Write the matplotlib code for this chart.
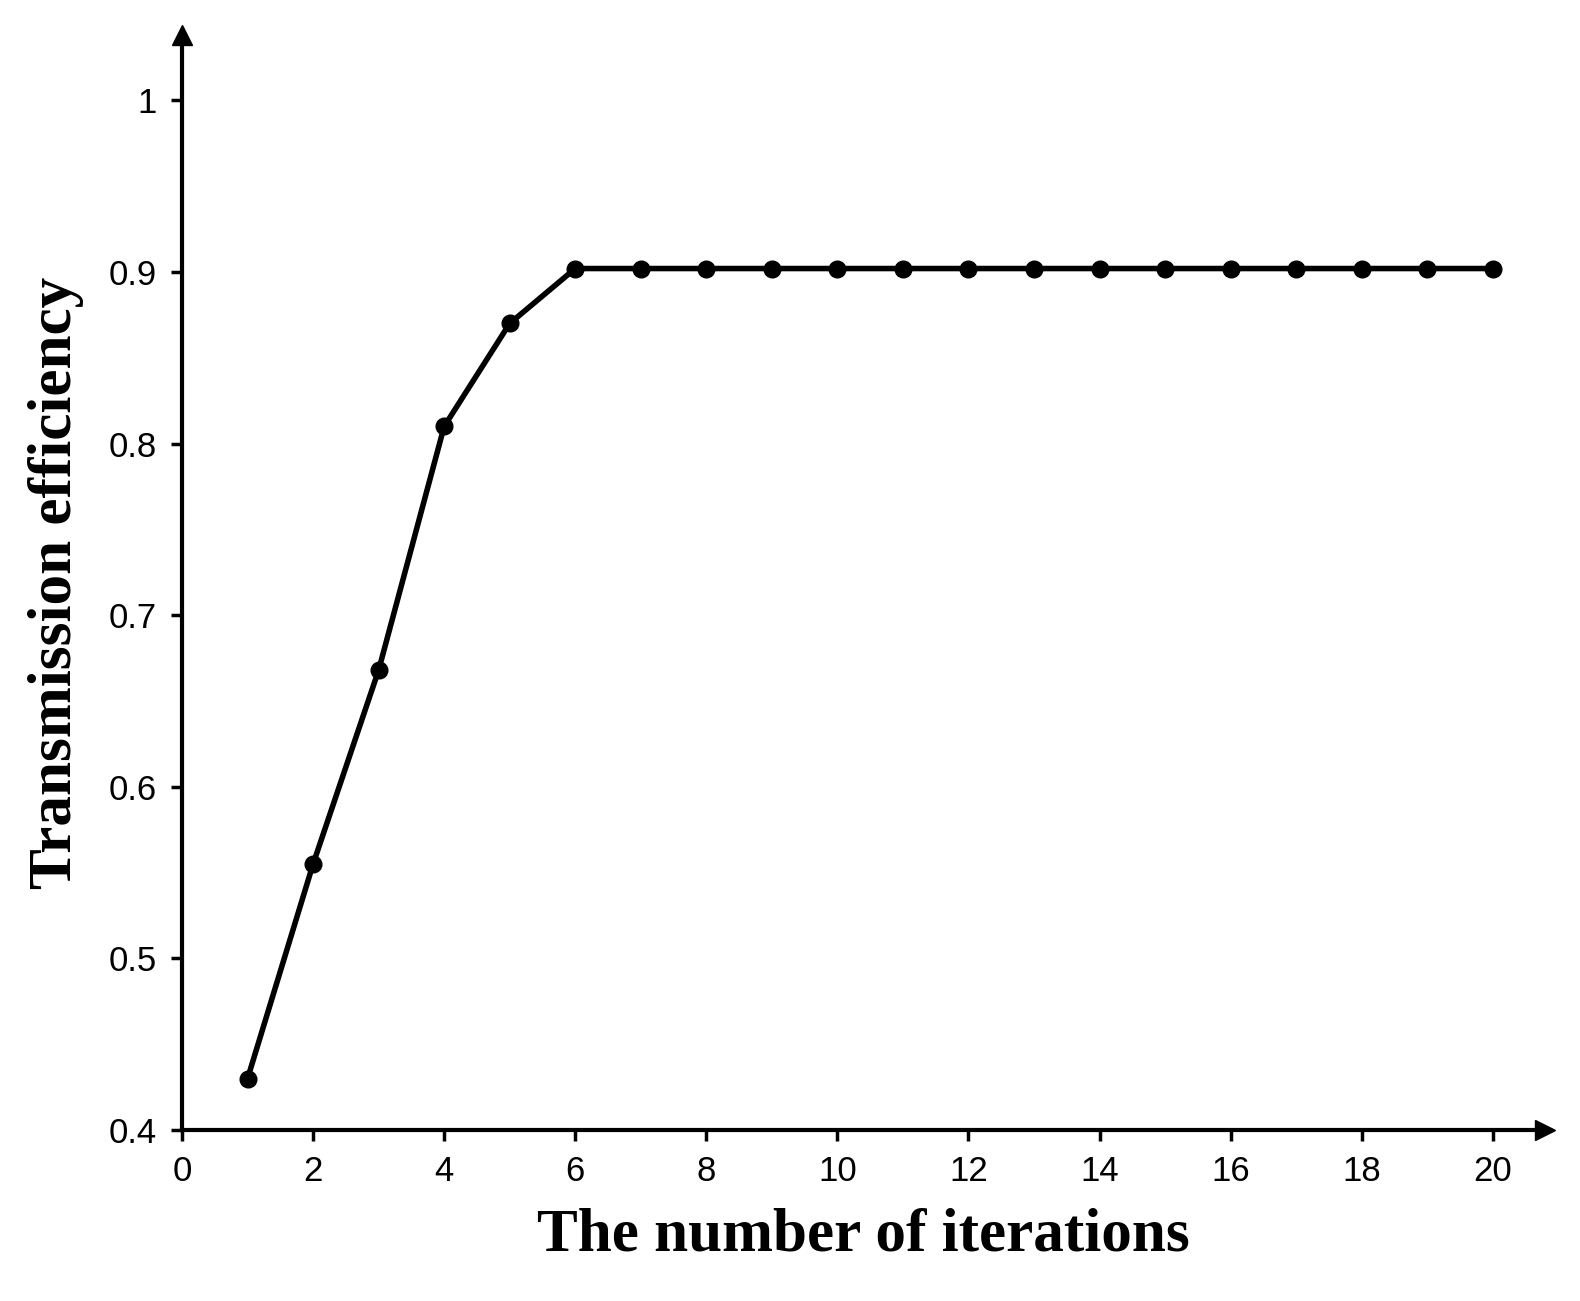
import matplotlib.pyplot as plt

iterations = list(range(1, 21))
efficiency = [0.43, 0.555, 0.668, 0.81, 0.87] + [0.902] * 15
x_ticks = list(range(0, 21, 2))
y_ticks = [0.4, 0.5, 0.6, 0.7, 0.8, 0.9, 1.0]
y_labels = ["0.4", "0.5", "0.6", "0.7", "0.8", "0.9", "1"]

fig = plt.figure(figsize=(15.8, 13.01), dpi=100)
ax = fig.add_axes([0.1152, 0.1314, 0.978 - 0.1152, 0.973 - 0.1314])

ax.plot(iterations, efficiency, color="black", linewidth=4, marker="o", markersize=12)

ax.set_xlim(0, 20.8)
ax.set_ylim(0.4, 1.038)
ax.spines["top"].set_visible(False)
ax.spines["right"].set_visible(False)
ax.spines["left"].set_linewidth(3)
ax.spines["bottom"].set_linewidth(3)
ax.plot(1, 0, ">k", markersize=14, transform=ax.transAxes, clip_on=False)
ax.plot(0, 1, "^k", markersize=14, transform=ax.transAxes, clip_on=False)

ax.set_xticks(x_ticks)
ax.set_yticks(y_ticks)
ax.set_yticklabels(y_labels)
ax.tick_params(labelsize=25, width=2.5, length=8, pad=10)
for lab in ax.get_xticklabels() + ax.get_yticklabels():
    lab.set_family("Liberation Sans")

ax.set_xlabel("The number of iterations", fontsize=44, fontweight="bold",
              family="Liberation Serif", labelpad=14)
ax.set_ylabel("Transmission efficiency", fontsize=44, fontweight="bold",
              family="Liberation Serif", labelpad=18)

fig.savefig("out.png", dpi=100)
